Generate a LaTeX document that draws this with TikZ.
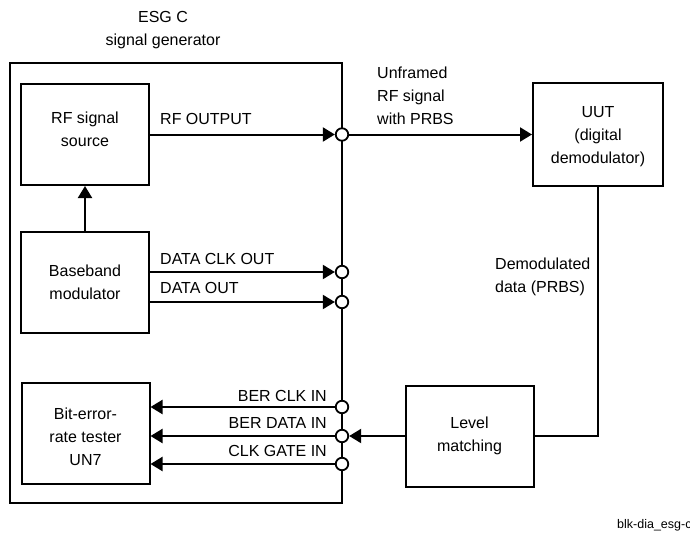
\documentclass[tikz,border=0pt]{standalone}
\usepackage{fontspec}
\setmainfont{Liberation Sans}
\usetikzlibrary{arrows.meta}
\begin{document}
\begin{tikzpicture}[x=1pt,y=-1pt,
  box/.style={draw, line width=2pt, minimum width=128pt, minimum height=101pt,
    align=center, inner sep=0pt, font=\fontsize{16}{23}\selectfont},
  port/.style={draw, circle, fill=white, line width=1.8pt, minimum size=12.5pt, inner sep=0pt},
  sig/.style={line width=2pt, -{Triangle[length=12pt,width=14pt]}},
  wire/.style={line width=2pt},
  lbl/.style={font=\fontsize{16}{23}\selectfont, inner sep=0pt, align=left}]
\useasboundingbox (0,0) rectangle (690,535);
\clip (0,0) rectangle (690,535);
% title
\node[lbl, align=center] (title) at (163,30.5) {ESG C\\signal generator};
% outer box
\draw[wire] (10,63) rectangle (342,503);
% inner boxes
\node[box, label={[lbl, align=center, yshift=5pt]center:RF signal\\source}] (rfs) at (85,134.5) {};
\node[box] (bb) at (85,282.5) {Baseband\\modulator};
\node[box, label={[lbl, align=center, yshift=-4pt]center:Bit-error-\\rate tester\\UN7}] (ber) at (85.5,433) {};
\node[box] (lvl) at (469.5,436) {Level\\matching};
\node[box, minimum width=130pt, minimum height=103pt, label={[lbl, align=center, yshift=-2pt]center:UUT\\(digital\\demodulator)}] (uut) at (598,134.5) {};
% ports
\node[port] (c1) at (342,134.5) {};
\node[port] (c2) at (342,272) {};
\node[port] (c3) at (342,302) {};
\node[port] (c4) at (342,407) {};
\node[port] (c5) at (342,436) {};
\node[port] (c6) at (342,464) {};
% connectors
\draw[sig] (bb.north) -- (rfs.south);
\draw[sig] (rfs.east) -- (c1.west);
\draw[sig] (c1.east) -- (uut.west);
\draw[sig] (bb.east |- c2) -- (c2.west);
\draw[sig] (bb.east |- c3) -- (c3.west);
\draw[sig] (c4.west) -- (ber.east |- c4);
\draw[sig] (c5.west) -- (ber.east |- c5);
\draw[sig] (c6.west) -- (ber.east |- c6);
\draw[wire] (uut.south) |- (lvl.east);
\draw[sig] (lvl.west) -- (c5.east);
% labels
\node[lbl, anchor=west] (l1) at (160,119) {RF OUTPUT};
\node[lbl, anchor=west] (l2) at (160,259) {DATA CLK OUT};
\node[lbl, anchor=west] (l3) at (160,288) {DATA OUT};
\node[lbl, anchor=east] (l4) at (327,396) {BER CLK IN};
\node[lbl, anchor=east] (l5) at (327,423) {BER DATA IN};
\node[lbl, anchor=east] (l6) at (327,451) {CLK GATE IN};
\node[lbl, anchor=west] (l7) at (377,95.5) {Unframed\\RF signal\\with PRBS};
\node[lbl, anchor=west] (l8) at (495,277) {Demodulated\\data (PRBS)};
\node[lbl, anchor=west, font=\fontsize{12.5}{14}\selectfont] (l9) at (617,525) {blk-dia\_esg-c};
\end{tikzpicture}
\end{document}
